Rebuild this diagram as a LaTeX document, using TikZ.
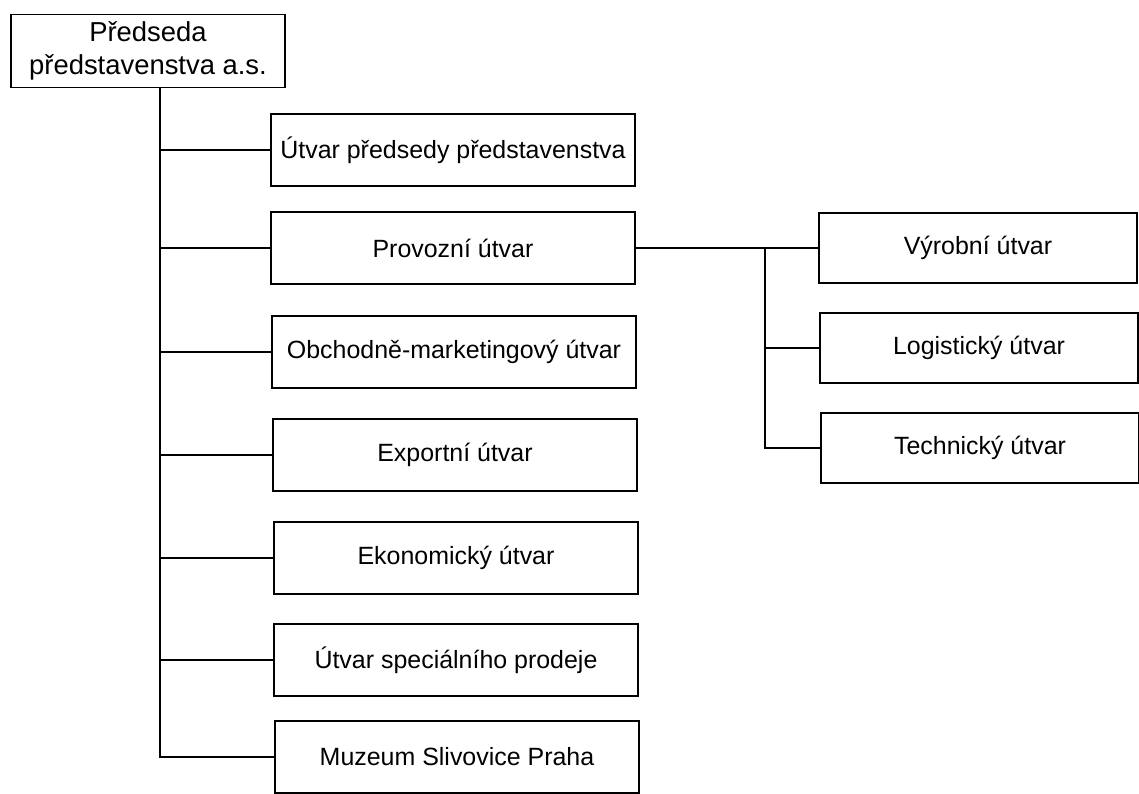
\documentclass[tikz,border=0pt]{standalone}
\usepackage{fontspec}
\setmainfont{Liberation Sans}

\begin{document}
\begin{tikzpicture}
  [x=0.02cm, y=-0.02cm,
    line width=1pt,
    every node/.style={draw, rectangle, align=center, inner sep=2pt,
      font=\fontsize{14.2}{17}\selectfont},
    unit/.style={minimum width=7.28cm, minimum height=1.44cm},
    subunit/.style={minimum width=6.36cm, minimum height=1.40cm},
]
\useasboundingbox (0,0) rectangle (1139,794);

\node[minimum width=5.48cm, minimum height=1.46cm, inner sep=0pt,
  font=\fontsize{15.6}{18.8}\selectfont] (boss) at (148,51)
  {Předseda\\představenstva a.s.};

\node[unit] (upp)  at (453,150) {Útvar předsedy představenstva};
\node[unit] (prov) at (453,248) {Provozní útvar};
\node[unit] (obch) at (454,352) {Obchodně-marketingový útvar};
\node[unit] (exp)  at (455,455) {Exportní útvar};
\node[unit] (eko)  at (456,558) {Ekonomický útvar};
\node[unit] (spec) at (456,660) {Útvar speciálního prodeje};
\node[unit] (muz)  at (457,757) {Muzeum Slivovice Praha};

\node[subunit] (vyr)  at (978,248) {Výrobní útvar};
\node[subunit] (log)  at (979,348) {Logistický útvar};
\node[subunit] (tech) at (980,448) {Technický útvar};

\coordinate (trunk) at (160,88);
\coordinate (sub) at (765,248);

% main trunk
\draw (trunk) |- (muz.west);
\draw (upp.west)  -- (upp.west -| trunk);
\draw (prov.west) -- (prov.west -| trunk);
\draw (obch.west) -- (obch.west -| trunk);
\draw (exp.west)  -- (exp.west -| trunk);
\draw (eko.west)  -- (eko.west -| trunk);
\draw (spec.west) -- (spec.west -| trunk);

% operations branch
\draw (prov.east) -- (vyr.west);
\draw (sub) |- (tech.west);
\draw (log.west) -- (log.west -| sub);
\end{tikzpicture}
\end{document}
